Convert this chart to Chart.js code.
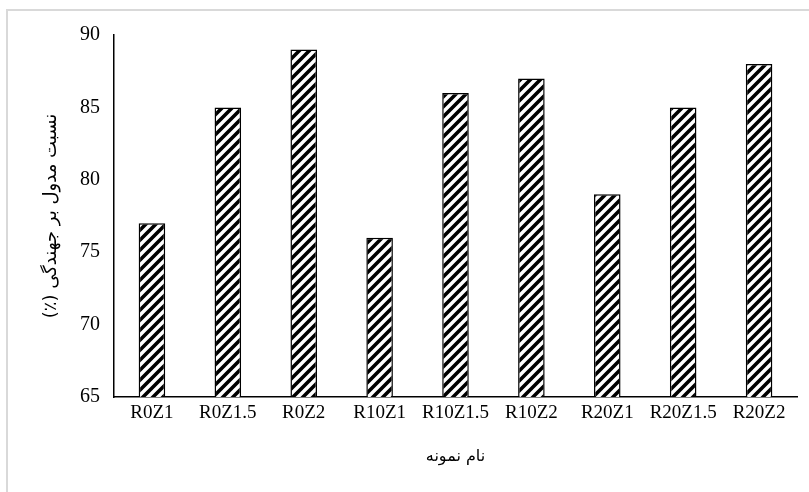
<!DOCTYPE html>
<html><head><meta charset="utf-8">
<script src="https://cdn.jsdelivr.net/npm/chart.js@4/dist/chart.umd.min.js"></script>
<style>
html,body{margin:0;padding:0;background:#fff;}
#wrap{position:relative;width:809px;height:492px;overflow:hidden;}
#frame{position:absolute;left:6px;top:9px;width:900px;height:600px;border-left:2px solid #d9d9d9;border-top:2px solid #d9d9d9;box-sizing:border-box;}
canvas{position:absolute;left:0;top:0;}
</style></head>
<body><div id="wrap"><div id="frame"></div><canvas id="c" width="809" height="492"></canvas></div>
<script>
const categories = ["R0Z1","R0Z1.5","R0Z2","R10Z1","R10Z1.5","R10Z2","R20Z1","R20Z1.5","R20Z2"];
const modulusRatio = [77,85,89,76,86,87,79,85,88];
const yTicks = [65,70,75,80,85,90];
const yTitle = "\u202Bنسبت مدول بر جهندگی (٪)\u202C";
const xTitle = "\u202Bنام نمونه\u202C";

function hatch(){
  const s=10, p=document.createElement('canvas'); p.width=s; p.height=s;
  const g=p.getContext('2d');
  g.fillStyle='#fff'; g.fillRect(0,0,s,s);
  g.strokeStyle='#000'; g.lineWidth=3.6; g.lineCap='butt';
  g.beginPath();
  g.moveTo(-2,s+2); g.lineTo(s+2,-2);
  g.moveTo(-s-2,s+2); g.lineTo(2,-2);
  g.moveTo(s-2,s+2); g.lineTo(2*s+2,-2);
  g.moveTo(-2,2*s+2); g.lineTo(s+2,s-2);
  g.moveTo(-2,2); g.lineTo(2,-2);
  g.stroke();
  return g.createPattern(p,'repeat');
}
const ctx=document.getElementById('c').getContext('2d');
const serif="'Liberation Serif','Times New Roman',serif";
new Chart(ctx,{
  type:'bar',
  data:{labels:categories,datasets:[{data:modulusRatio,backgroundColor:hatch(),borderColor:'#000',borderWidth:1.5,barPercentage:0.7,categoryPercentage:0.5}]},
  options:{
    responsive:false,animation:false,devicePixelRatio:1,
    layout:{padding:{left:41,right:12,top:35,bottom:18}},
    plugins:{legend:{display:false},tooltip:{enabled:false}},
    scales:{
      x:{
        grid:{display:false,drawTicks:false},
        border:{color:'#000',width:1.5},
        ticks:{color:'#000',font:{family:serif,size:19},padding:5,maxRotation:0,autoSkip:false},
        title:{display:true,text:xTitle,color:'#000',font:{family:"'DejaVu Sans',sans-serif",size:16},padding:{top:6,bottom:8}},
        afterFit(s){s.height=77;}
      },
      y:{
        min:65,max:90,
        afterBuildTicks(s){s.ticks=yTicks.map(v=>({value:v}));},
        grid:{display:false,drawTicks:false},
        border:{color:'#000',width:1.5},
        ticks:{color:'#000',font:{family:serif,size:20},padding:14},
        title:{display:true,text:yTitle,color:'#000',font:{family:"'DejaVu Sans',sans-serif",size:18},padding:{top:0,bottom:0}},
        afterFit(s){s.width=73;}
      }
    }
  }
});
</script></body></html>
